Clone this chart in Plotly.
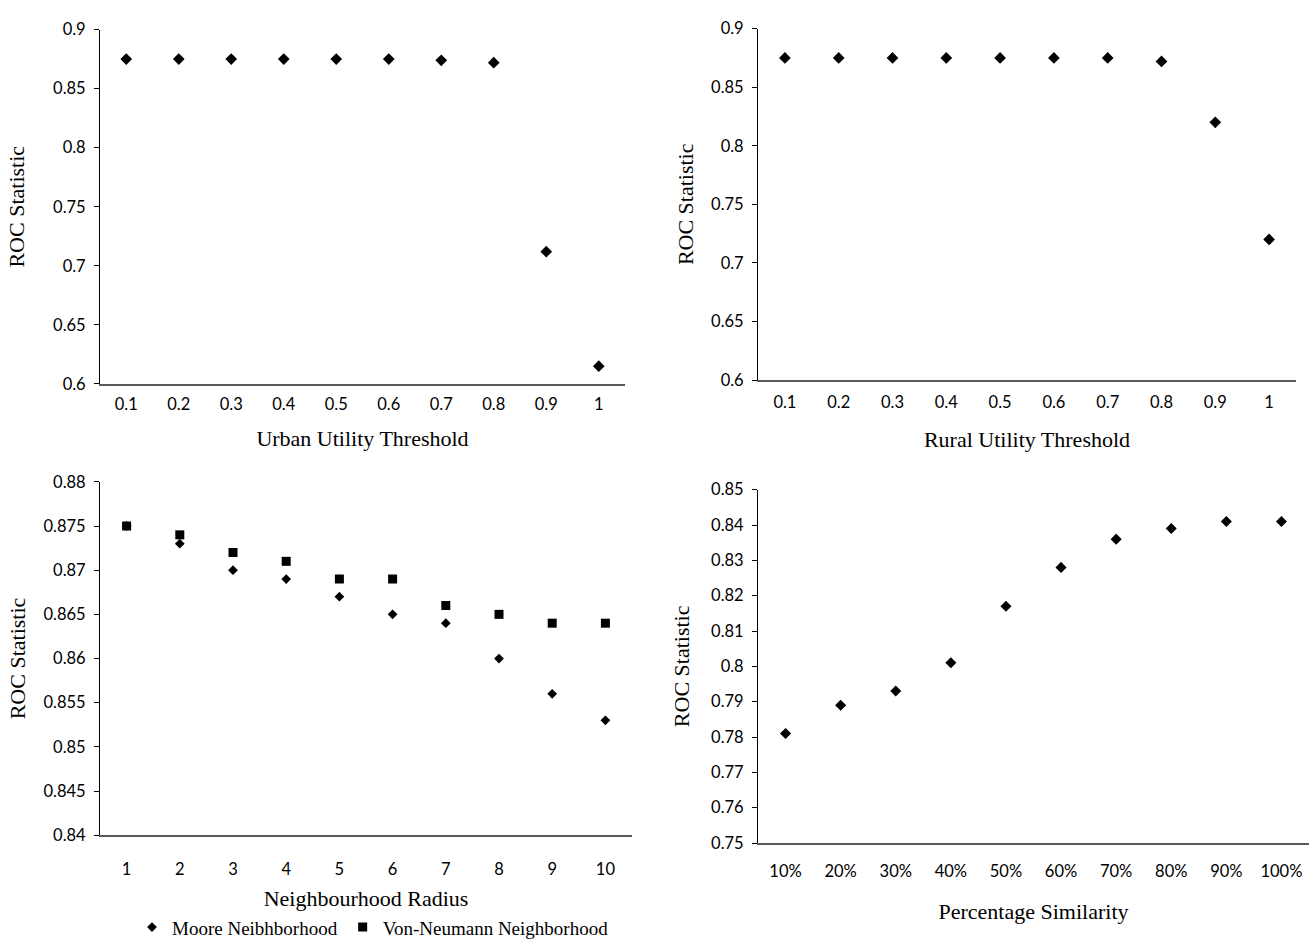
import plotly.graph_objects as go

W, H = 1313, 948

# ---------------- data ----------------
urban_thresholds = ["0.1", "0.2", "0.3", "0.4", "0.5", "0.6", "0.7", "0.8", "0.9", "1"]
urban_roc = [0.875, 0.875, 0.875, 0.875, 0.875, 0.875, 0.874, 0.872, 0.712, 0.615]

rural_thresholds = ["0.1", "0.2", "0.3", "0.4", "0.5", "0.6", "0.7", "0.8", "0.9", "1"]
rural_roc = [0.875, 0.875, 0.875, 0.875, 0.875, 0.875, 0.875, 0.872, 0.820, 0.720]

radius = ["1", "2", "3", "4", "5", "6", "7", "8", "9", "10"]
moore_roc = [0.875, 0.873, 0.870, 0.869, 0.867, 0.865, 0.864, 0.860, 0.856, 0.853]
vonneumann_roc = [0.875, 0.874, 0.872, 0.871, 0.869, 0.869, 0.866, 0.865, 0.864, 0.864]

similarity = ["10%", "20%", "30%", "40%", "50%", "60%", "70%", "80%", "90%", "100%"]
similarity_roc = [0.781, 0.789, 0.793, 0.801, 0.817, 0.828, 0.836, 0.839, 0.841, 0.841]

yticks_top = [0.6, 0.65, 0.7, 0.75, 0.8, 0.85, 0.9]
yticklabels_top = ["0.6", "0.65", "0.7", "0.75", "0.8", "0.85", "0.9"]
yticks_radius = [0.84, 0.845, 0.85, 0.855, 0.86, 0.865, 0.87, 0.875, 0.88]
yticklabels_radius = ["0.84", "0.845", "0.85", "0.855", "0.86", "0.865", "0.87", "0.875", "0.88"]
yticks_sim = [0.75, 0.76, 0.77, 0.78, 0.79, 0.8, 0.81, 0.82, 0.83, 0.84, 0.85]
yticklabels_sim = ["0.75", "0.76", "0.77", "0.78", "0.79", "0.8", "0.81", "0.82", "0.83", "0.84", "0.85"]

# ---------------- figure ----------------
TICK_FONT = dict(family="Lato, Calibri, sans-serif", size=16.5, color="#000")
TITLE_FONT = dict(family="Liberation Serif, Times New Roman, serif", size=22, color="#000")

fig = go.Figure()

def idx(labels):
    return list(range(len(labels)))

fig.add_trace(go.Scatter(x=idx(urban_thresholds), y=urban_roc, mode="markers",
                         marker=dict(symbol="diamond", size=9, color="#000"),
                         xaxis="x", yaxis="y", showlegend=False, name="Urban"))
fig.add_trace(go.Scatter(x=idx(rural_thresholds), y=rural_roc, mode="markers",
                         marker=dict(symbol="diamond", size=9, color="#000"),
                         xaxis="x2", yaxis="y2", showlegend=False, name="Rural"))
fig.add_trace(go.Scatter(x=idx(radius), y=vonneumann_roc, mode="markers",
                         marker=dict(symbol="square", size=9, color="#000"),
                         xaxis="x3", yaxis="y3", showlegend=False, name="Von-Neumann Neighborhood"))
fig.add_trace(go.Scatter(x=idx(radius), y=moore_roc, mode="markers",
                         marker=dict(symbol="diamond", size=7.5, color="#000"),
                         xaxis="x3", yaxis="y3", showlegend=True, name="Moore Neibhborhood"))
# legend entry for Von-Neumann (ordered after Moore)
fig.add_trace(go.Scatter(x=[None], y=[None], mode="markers",
                         marker=dict(symbol="square", size=9, color="#000"),
                         xaxis="x3", yaxis="y3", showlegend=True, name="Von-Neumann Neighborhood"))
fig.add_trace(go.Scatter(x=idx(similarity), y=similarity_roc, mode="markers",
                         marker=dict(symbol="diamond", size=8.5, color="#000"),
                         xaxis="x4", yaxis="y4", showlegend=False, name="Similarity"))

def px_dom_x(a, b):
    return [a / W, b / W]

def px_dom_y(top, bottom):
    return [1 - bottom / H, 1 - top / H]

def xaxis(dom, labels, title, anchor, lab_standoff, standoff):
    return dict(domain=dom, anchor=anchor, range=[-0.5, len(labels) - 0.5],
                tickmode="array", tickvals=idx(labels), ticktext=labels,
                showgrid=False, zeroline=False, showline=True,
                linecolor="#5a5a5a", linewidth=1.5, ticks="",
                tickfont=TICK_FONT, ticklabelstandoff=lab_standoff,
                title=dict(text=title, font=TITLE_FONT, standoff=standoff))

def yaxis(dom, rng, vals, texts, anchor, standoff):
    return dict(domain=dom, anchor=anchor, range=rng,
                tickmode="array", tickvals=vals, ticktext=texts,
                showgrid=False, zeroline=False, showline=True,
                linecolor="#000", linewidth=1, ticks="outside", ticklen=5,
                tickcolor="#000", tickwidth=1,
                tickfont=TICK_FONT, ticklabelstandoff=5,
                title=dict(text="ROC Statistic", font=TITLE_FONT, standoff=standoff))

fig.update_layout(
    width=W, height=H,
    margin=dict(l=0, r=0, t=0, b=0),
    paper_bgcolor="white", plot_bgcolor="white",
    xaxis=xaxis(px_dom_x(100, 625), urban_thresholds, "Urban Utility Threshold", "y", 5, 17),
    yaxis=yaxis(px_dom_y(20, 382), [0.6, 0.9], yticks_top, yticklabels_top, "x", 22),
    xaxis2=xaxis(px_dom_x(758, 1296), rural_thresholds, "Rural Utility Threshold", "y2", 6, 21),
    yaxis2=yaxis(px_dom_y(19, 378), [0.6, 0.9], yticks_top, yticklabels_top, "x2", 11),
    xaxis3=xaxis(px_dom_x(100, 632), radius, "Neighbourhood Radius", "y3", 18, 13),
    yaxis3=yaxis(px_dom_y(482, 843), [0.84, 0.88], yticks_radius, yticklabels_radius, "x3", 11),
    xaxis4=xaxis(px_dom_x(758, 1309), similarity, "Percentage Similarity", "y4", 12, 24),
    yaxis4=yaxis(px_dom_y(490, 851), [0.75, 0.85], yticks_sim, yticklabels_sim, "x4", 15),
    legend=dict(orientation="h", x=132 / W, xanchor="left", y=1 - 937 / H, yanchor="middle",
                font=dict(family="Liberation Serif, Times New Roman, serif", size=19, color="#000"),
                bgcolor="rgba(0,0,0,0)", itemwidth=30),
)

fig.write_html("out.html")
